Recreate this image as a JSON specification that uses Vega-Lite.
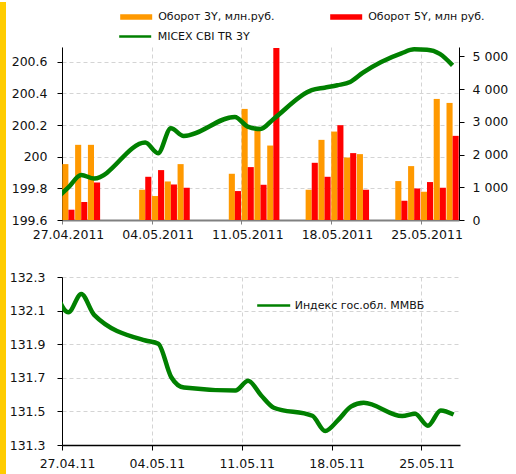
{
  "$schema": "https://vega.github.io/schema/vega-lite/v6.json",
  "background": "white",
  "padding": 0,
  "config": {
    "font": "DejaVu Sans",
    "view": {"stroke": null},
    "axis": {"labelFont": "DejaVu Sans", "labelFontSize": 12.5, "labelColor": "#111111", "domainColor": "#000000", "tickColor": "#000000", "gridColor": "#d4d4d4", "gridDash": [4, 3], "gridWidth": 1, "title": null, "labelOverlap": false},
    "legend": {"labelFont": "DejaVu Sans", "labelFontSize": 11, "labelColor": "#111111", "padding": 0, "labelOffset": 5, "orient": "none", "title": null}
  },
  "datasets": {
    "bars": [
      {"date": "2011-04-27", "o3": 1707, "o5": 314},
      {"date": "2011-04-28", "o3": 2296, "o5": 549},
      {"date": "2011-04-29", "o3": 2296, "o5": 1146},
      {"date": "2011-05-03", "o3": 924, "o5": 1320},
      {"date": "2011-05-04", "o3": 732, "o5": 1524},
      {"date": "2011-05-05", "o3": 1177, "o5": 1085},
      {"date": "2011-05-06", "o3": 1707, "o5": 985},
      {"date": "2011-05-10", "o3": 1412, "o5": 884},
      {"date": "2011-05-11", "o3": 3393, "o5": 1616},
      {"date": "2011-05-12", "o3": 2744, "o5": 1076},
      {"date": "2011-05-13", "o3": 2274, "o5": 5253},
      {"date": "2011-05-16", "o3": 924, "o5": 1747},
      {"date": "2011-05-17", "o3": 2448, "o5": 1320},
      {"date": "2011-05-18", "o3": 2701, "o5": 2896},
      {"date": "2011-05-19", "o3": 1909, "o5": 2043},
      {"date": "2011-05-20", "o3": 2012, "o5": 924},
      {"date": "2011-05-23", "o3": 1189, "o5": 588},
      {"date": "2011-05-24", "o3": 1646, "o5": 963},
      {"date": "2011-05-25", "o3": 863, "o5": 1159},
      {"date": "2011-05-26", "o3": 3698, "o5": 985},
      {"date": "2011-05-27", "o3": 3576, "o5": 2570}
    ],
    "lines": [
      {"date": "2011-04-26", "micex": 199.73, "mmvb": 132.21},
      {"date": "2011-04-27", "micex": 199.806, "mmvb": 132.09},
      {"date": "2011-04-28", "micex": 199.884, "mmvb": 132.199},
      {"date": "2011-04-29", "micex": 199.862, "mmvb": 132.075},
      {"date": "2011-05-03", "micex": 200.089, "mmvb": 131.922},
      {"date": "2011-05-04", "micex": 200.022, "mmvb": 131.903},
      {"date": "2011-05-05", "micex": 200.18, "mmvb": 131.705},
      {"date": "2011-05-06", "micex": 200.131, "mmvb": 131.642},
      {"date": "2011-05-10", "micex": 200.251, "mmvb": 131.624},
      {"date": "2011-05-11", "micex": 200.19, "mmvb": 131.682},
      {"date": "2011-05-12", "micex": 200.175, "mmvb": 131.596},
      {"date": "2011-05-13", "micex": 200.237, "mmvb": 131.522},
      {"date": "2011-05-16", "micex": 200.42, "mmvb": 131.474},
      {"date": "2011-05-17", "micex": 200.436, "mmvb": 131.383},
      {"date": "2011-05-18", "micex": 200.451, "mmvb": 131.448},
      {"date": "2011-05-19", "micex": 200.472, "mmvb": 131.528},
      {"date": "2011-05-20", "micex": 200.531, "mmvb": 131.551},
      {"date": "2011-05-23", "micex": 200.653, "mmvb": 131.472},
      {"date": "2011-05-24", "micex": 200.678, "mmvb": 131.486},
      {"date": "2011-05-25", "micex": 200.676, "mmvb": 131.415},
      {"date": "2011-05-26", "micex": 200.65, "mmvb": 131.506},
      {"date": "2011-05-27", "micex": 200.577, "mmvb": 131.482}
    ]
  },
  "spacing": 3,
  "resolve": {"scale": {"color": "independent"}, "legend": {"color": "independent"}},
  "hconcat": [
    {
      "width": 6,
      "height": 474,
      "view": {"fill": "#FFCC00", "stroke": null},
      "data": {"values": [{}]},
      "mark": {"type": "text", "text": ""},
      "encoding": {
        "color": {
          "datum": 1, "type": "quantitative",
          "scale": {"domain": [0, 1], "range": ["#FFCC00", "#FFCC00"]},
          "legend": {"orient": "none", "legendX": 0, "legendY": -45, "direction": "vertical", "gradientLength": 60, "gradientThickness": 6, "labelExpr": "''", "labelOffset": 0, "labelFontSize": 1, "gradientStrokeWidth": 0, "title": null}
        }
      }
    },
    {
      "spacing": 30,
      "resolve": {"scale": {"x": "independent", "y": "independent", "stroke": "independent"}, "legend": {"stroke": "independent"}},
      "vconcat": [
        {
          "width": 397,
          "height": 173,
          "resolve": {"scale": {"x": "independent", "y": "independent"}},
          "layer": [
            {
              "data": {"name": "bars"},
              "transform": [{"fold": ["o3", "o5"], "as": ["series", "value"]}],
              "mark": {"type": "bar", "strokeWidth": 0},
              "encoding": {
                "x": {
                  "field": "date", "type": "ordinal",
                  "scale": {"domain": ["2011-04-27","2011-04-28","2011-04-29","2011-04-30","2011-05-01","2011-05-02","2011-05-03","2011-05-04","2011-05-05","2011-05-06","2011-05-07","2011-05-08","2011-05-09","2011-05-10","2011-05-11","2011-05-12","2011-05-13","2011-05-14","2011-05-15","2011-05-16","2011-05-17","2011-05-18","2011-05-19","2011-05-20","2011-05-21","2011-05-22","2011-05-23","2011-05-24","2011-05-25","2011-05-26","2011-05-27"], "paddingInner": 0, "paddingOuter": 0},
                  "axis": null
                },
                "xOffset": {"field": "series", "scale": {"paddingInner": 0, "paddingOuter": 0.05}},
                "y": {
                  "field": "value", "type": "quantitative",
                  "scale": {"domain": [0, 5284], "nice": false, "zero": true},
                  "axis": {"orient": "right", "values": [0, 1000, 2000, 3000, 4000, 5000], "labelExpr": "replace(format(datum.value, ','), ',', ' ')", "grid": false, "tickSize": 5, "labelPadding": 8}
                },
                "color": {
                  "field": "series", "type": "nominal",
                  "scale": {"domain": ["o3", "o5"], "range": ["#FF9900", "#FF0000"]},
                  "legend": {"columns": 2, "columnPadding": 54, "symbolType": "M-1,-0.17H1V0.17H-1Z", "symbolSize": 1024, "labelExpr": "datum.value == 'o3' ? 'Оборот 3Y, млн.руб.' : 'Оборот 5Y, млн руб.'", "legendX": 57.2, "legendY": -47}
                }
              }
            },
            {
              "data": {"name": "lines"},
              "mark": {"type": "line", "interpolate": "monotone", "strokeWidth": 4.5, "clip": true},
              "encoding": {
                "x": {
                  "field": "date", "type": "temporal", "timeUnit": "utcyearmonthdate", "bandPosition": 0.5,
                  "scale": {"domain": [{"year": 2011, "month": 4, "date": 27, "utc": true}, {"year": 2011, "month": 5, "date": 28, "utc": true}], "nice": false},
                  "axis": {
                    "values": [{"year": 2011, "month": 4, "date": 27, "utc": true}, {"year": 2011, "month": 5, "date": 4, "utc": true}, {"year": 2011, "month": 5, "date": 11, "utc": true}, {"year": 2011, "month": 5, "date": 18, "utc": true}, {"year": 2011, "month": 5, "date": 25, "utc": true}],
                    "labelExpr": "utcFormat(datum.value, '%d.%m.%Y')",
                    "grid": true, "domainColor": "#808080", "domainWidth": 2, "tickColor": "#808080", "tickSize": 4, "labelPadding": 4, "labelOffset": 6, "labelFlush": false
                  }
                },
                "y": {
                  "field": "micex", "type": "quantitative",
                  "scale": {"domain": [199.6, 200.693], "nice": false, "zero": false},
                  "axis": {"orient": "left", "values": [199.6, 199.8, 200, 200.2, 200.4, 200.6], "format": "~g", "grid": true, "tickSize": 5, "labelPadding": 10}
                },
                "stroke": {
                  "datum": "MICEX CBI TR 3Y",
                  "scale": {"range": ["#008000"]},
                  "legend": {"symbolType": "stroke", "symbolSize": 1024, "symbolStrokeWidth": 2.5, "legendX": 55.7, "legendY": -28}
                }
              }
            }
          ]
        },
        {
          "width": 398,
          "height": 168,
          "data": {"name": "lines"},
          "mark": {"type": "line", "interpolate": "monotone", "strokeWidth": 4.5, "clip": true},
          "encoding": {
            "x": {
              "field": "date", "type": "temporal", "timeUnit": "utcyearmonthdate", "bandPosition": 0.5,
              "scale": {"domain": [{"year": 2011, "month": 4, "date": 27, "utc": true}, {"year": 2011, "month": 5, "date": 28, "utc": true}], "nice": false},
              "axis": {
                "values": [{"year": 2011, "month": 4, "date": 27, "utc": true}, {"year": 2011, "month": 5, "date": 4, "utc": true}, {"year": 2011, "month": 5, "date": 11, "utc": true}, {"year": 2011, "month": 5, "date": 18, "utc": true}, {"year": 2011, "month": 5, "date": 25, "utc": true}],
                "labelExpr": "utcFormat(datum.value, '%d.%m.%y')",
                "grid": true, "domainColor": "#000000", "domainWidth": 1.5, "tickSize": 5, "labelPadding": 7, "labelOffset": 5, "labelFlush": false
              }
            },
            "y": {
              "field": "mmvb", "type": "quantitative",
              "scale": {"domain": [131.3, 132.3], "nice": false, "zero": false},
              "axis": {"values": [131.3, 131.5, 131.7, 131.9, 132.1, 132.3], "format": ".1f", "grid": true, "tickSize": 5, "labelPadding": 12}
            },
            "stroke": {
              "datum": "Индекс гос.обл. ММВБ",
              "scale": {"range": ["#008000"]},
              "legend": {"symbolType": "stroke", "symbolSize": 1089, "symbolStrokeWidth": 2.5, "labelOffset": 3, "legendX": 193.7, "legendY": 10.5}
            }
          }
        }
      ]
    }
  ]
}
